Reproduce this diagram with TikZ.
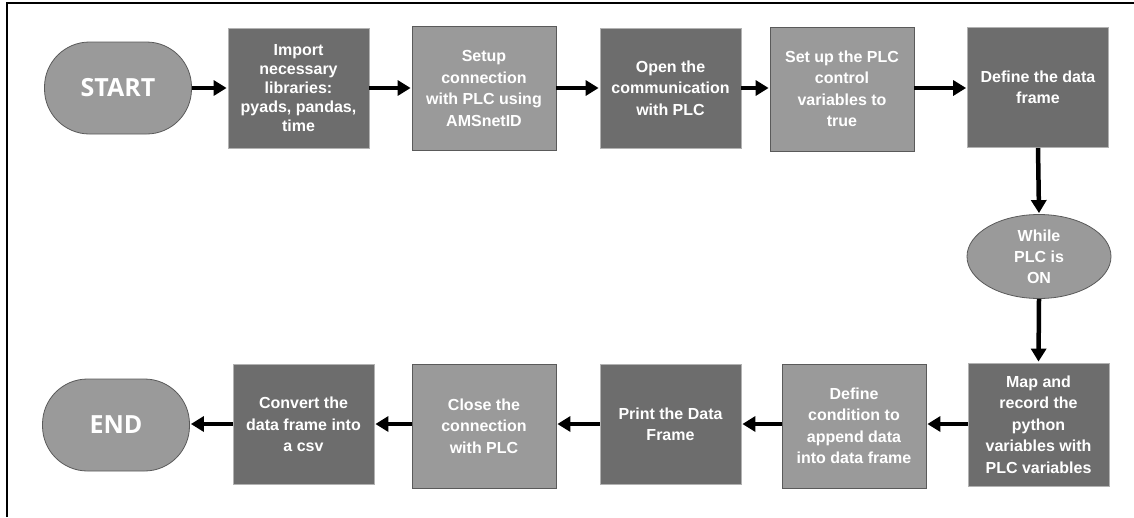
\documentclass[tikz,border=0pt]{standalone}
\usepackage{fontspec}
\setmainfont{Liberation Sans}
\newfontfamily\termfont{Open Sans}
\usetikzlibrary{arrows.meta,shapes.geometric}
\definecolor{darkstep}{HTML}{6D6D6D}
\definecolor{lightstep}{HTML}{9A9A9A}
\definecolor{stepedge}{HTML}{5A5A5A}
\begin{document}
\begin{tikzpicture}[x=1pt,y=-1pt,
  box/.style={rectangle, inner sep=0pt, align=center, text=white,
    font=\fontsize{16}{21.5}\selectfont\bfseries},
  darkbox/.style={box, fill=darkstep, draw=black!30, line width=0.8pt,
    minimum width=141pt, minimum height=120pt},
  lightbox/.style={box, fill=lightstep, draw=stepedge, line width=0.8pt,
    minimum width=144pt, minimum height=124pt},
  terminal/.style={rectangle, rounded corners=45pt, fill=lightstep,
    draw=stepedge, line width=0.8pt, minimum width=147pt, minimum height=92pt,
    inner sep=0pt, text=white, font=\termfont\fontsize{25}{30}\selectfont\bfseries},
  loopcond/.style={ellipse, fill=lightstep, draw=stepedge, line width=0.8pt,
    minimum width=144pt, minimum height=84pt, inner sep=0pt, align=center,
    text=white, font=\fontsize{16}{21}\selectfont\bfseries},
  flow/.style={line width=4.5pt, shorten >=1pt,
    -{Triangle[length=13pt,width=15pt]}}
]
\useasboundingbox (0,0) rectangle (1134,517);
% frame (top and left edges only)
\draw[line width=2.5pt] (7,517) -- (7,3) -- (1134,3);

% top row
\node[terminal] (start) at (118,88) {START};
\node[darkbox, font=\fontsize{16}{19}\selectfont\bfseries] (imp) at (298.5,88)
  {Import\\necessary\\libraries:\\pyads, pandas,\\time};
\node[lightbox] (setup) at (484,88.5) {Setup\\connection\\with PLC using\\AMSnetID};
\node[darkbox] (open) at (670.5,88) {Open the\\communication\\with PLC};
\node[lightbox] (ctrl) at (842,89) {Set up the PLC\\control\\variables to\\true};
\node[darkbox] (frame) at (1038,87.5) {Define the data\\frame};

% loop condition
\node[loopcond] (while) at (1039,256.5) {While\\PLC is\\ON};

% bottom row
\node[darkbox, minimum height=123pt] (map) at (1038.5,424.5) {Map and\\record the\\python\\variables with\\PLC variables};
\node[lightbox] (cond) at (854,426) {Define\\condition to\\append data\\into data frame};
\node[darkbox] (print) at (670.5,424.5) {Print the Data\\Frame};
\node[lightbox] (close) at (484,426) {Close the\\connection\\with PLC};
\node[darkbox] (conv) at (303.5,424.5) {Convert the\\data frame into\\a csv};
\node[terminal] (end) at (116,425) {END};

% connectors
\draw[flow] (start.east |- 0,88) -- (imp.west |- 0,88);
\draw[flow] (imp.east |- 0,88) -- (setup.west |- 0,88);
\draw[flow] (setup.east |- 0,88) -- (open.west |- 0,88);
\draw[flow] (open.east |- 0,88) -- (ctrl.west |- 0,88);
\draw[flow] (ctrl.east |- 0,88) -- (frame.west |- 0,88);
\draw[flow] (frame.south) -- (while.north);
\draw[flow] (while.south) -- (map.north);
\draw[flow] (map.west |- 0,424) -- (cond.east |- 0,424);
\draw[flow] (cond.west |- 0,424) -- (print.east |- 0,424);
\draw[flow] (print.west |- 0,424) -- (close.east |- 0,424);
\draw[flow] (close.west |- 0,424) -- (conv.east |- 0,424);
\draw[flow] (conv.west |- 0,424) -- (end.east |- 0,424);
\end{tikzpicture}
\end{document}
